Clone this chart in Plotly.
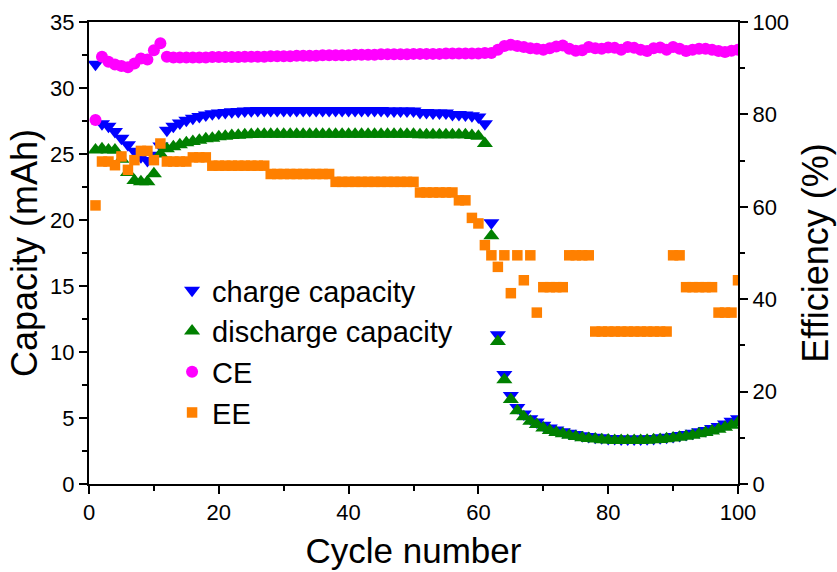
import plotly.graph_objects as go

cycles = list(range(1, 101))

charge_capacity = [
    31.8, 27.3, 27.1, 26.7, 26.2, 25.7, 25.2, 24.8, 24.5, 24.9,
    25.6, 26.8, 27.1, 27.35, 27.55, 27.7, 27.85, 27.95, 28.05, 28.1,
    28.15, 28.2, 28.22, 28.25, 28.27, 28.3, 28.3, 28.3, 28.3, 28.3,
    28.3, 28.3, 28.3, 28.3, 28.3, 28.3, 28.3, 28.3, 28.3, 28.3,
    28.3, 28.3, 28.3, 28.3, 28.3, 28.25, 28.25, 28.25, 28.25, 28.25,
    28.15, 28.15, 28.1, 28.1, 28.1, 28.0, 28.0, 27.95, 27.9, 27.8,
    27.3, 19.8, 11.3, 8.3, 6.7, 5.8, 5.3, 4.95, 4.7, 4.45,
    4.25, 4.1, 3.95, 3.85, 3.75, 3.65, 3.6, 3.55, 3.5, 3.45,
    3.45, 3.4, 3.4, 3.4, 3.4, 3.42, 3.45, 3.5, 3.55, 3.6,
    3.68, 3.75, 3.85, 3.95, 4.05, 4.2, 4.35, 4.55, 4.75, 4.95,
]

discharge_capacity = [
    25.3, 25.4, 25.3, 25.3, 24.6, 23.6, 23.0, 22.9, 22.9, 23.5,
    25.0, 25.4, 25.55, 25.7, 25.85, 25.95, 26.05, 26.15, 26.2, 26.3,
    26.35, 26.4, 26.42, 26.45, 26.48, 26.5, 26.5, 26.5, 26.5, 26.5,
    26.5, 26.5, 26.5, 26.5, 26.5, 26.5, 26.5, 26.5, 26.5, 26.5,
    26.5, 26.5, 26.5, 26.5, 26.5, 26.5, 26.5, 26.5, 26.5, 26.5,
    26.45, 26.45, 26.45, 26.45, 26.45, 26.45, 26.45, 26.45, 26.4, 26.35,
    25.8, 18.8, 10.8, 7.9, 6.4, 5.55, 5.1, 4.75, 4.5, 4.25,
    4.05, 3.9, 3.8, 3.7, 3.6, 3.5, 3.45, 3.4, 3.35, 3.33,
    3.3, 3.3, 3.3, 3.3, 3.3, 3.32, 3.35, 3.38, 3.42, 3.48,
    3.55, 3.62, 3.7, 3.8, 3.9, 4.02, 4.15, 4.3, 4.45, 4.65,
]

ce = [
    78.8, 92.5, 91.4, 90.8, 90.5, 90.2, 91.0, 92.1, 91.9, 93.9,
    95.4, 92.5, 92.3, 92.3, 92.3, 92.3, 92.3, 92.3, 92.4, 92.4,
    92.4, 92.4, 92.4, 92.5, 92.5, 92.5, 92.5, 92.6, 92.6, 92.6,
    92.6, 92.7, 92.7, 92.7, 92.7, 92.8, 92.8, 92.8, 92.8, 92.8,
    92.9, 92.9, 92.9, 92.9, 93.0, 93.0, 93.0, 93.0, 93.0, 93.1,
    93.1, 93.1, 93.1, 93.1, 93.2, 93.2, 93.2, 93.2, 93.2, 93.2,
    93.3, 93.3, 94.0, 94.8, 95.1, 94.8, 94.6, 94.3, 94.2, 94.0,
    94.3, 94.7, 94.9, 94.2, 93.8, 93.9, 94.6, 94.3, 94.2, 94.5,
    94.4, 94.0, 94.6, 94.4, 94.0, 93.7, 94.3, 94.5, 94.0, 94.6,
    94.2, 93.7, 94.0, 94.2, 94.2, 94.0, 93.7, 93.5, 93.8, 94.0,
]

ee = [
    60.3, 69.8, 69.8, 69.0, 70.9, 68.0, 70.1, 72.1, 72.1, 70.1,
    73.7, 69.8, 69.8, 69.8, 69.8, 70.7, 70.7, 70.7, 68.9, 68.9,
    68.9, 68.9, 68.9, 68.9, 68.9, 68.9, 68.9, 67.1, 67.1, 67.1,
    67.1, 67.1, 67.1, 67.1, 67.1, 67.1, 67.1, 65.4, 65.4, 65.4,
    65.4, 65.4, 65.4, 65.4, 65.4, 65.4, 65.4, 65.4, 65.4, 65.4,
    63.1, 63.1, 63.1, 63.1, 63.1, 63.1, 61.4, 61.4, 57.6, 56.4,
    51.7, 49.5, 47.0, 49.5, 41.3, 49.5, 44.1, 49.5, 37.1, 42.6,
    42.6, 42.6, 42.6, 49.5, 49.5, 49.5, 49.5, 33.0, 33.0, 33.0,
    33.0, 33.0, 33.0, 33.0, 33.0, 33.0, 33.0, 33.0, 33.0, 49.5,
    49.5, 42.6, 42.6, 42.6, 42.6, 42.6, 37.1, 37.1, 37.1, 44.1,
]

FONT = "Arial, Liberation Sans, sans-serif"

fig = go.Figure()
fig.add_trace(go.Scatter(x=cycles, y=charge_capacity, mode="markers", name="charge capacity",
                         marker=dict(symbol="triangle-down", size=14, color="#0000FF")))
fig.add_trace(go.Scatter(x=cycles, y=discharge_capacity, mode="markers", name="discharge capacity",
                         marker=dict(symbol="triangle-up", size=14, color="#008000")))
fig.add_trace(go.Scatter(x=cycles, y=ce, mode="markers", name="CE", yaxis="y2",
                         marker=dict(symbol="circle", size=12, color="#FF00FF")))
fig.add_trace(go.Scatter(x=cycles, y=ee, mode="markers", name="EE", yaxis="y2",
                         marker=dict(symbol="square", size=10.5, color="#FF8000")))

axis_common = dict(
    showgrid=False, zeroline=False, showline=True, linecolor="black", linewidth=2,
    ticks="outside", ticklen=8, tickwidth=2, tickcolor="black", automargin=False,
    tickfont=dict(family=FONT, size=22, color="black"),
)

fig.update_layout(
    width=837, height=572,
    margin=dict(l=89, r=99, t=22, b=88, autoexpand=False),
    paper_bgcolor="white", plot_bgcolor="white",
    font=dict(family=FONT, color="black"),
    xaxis=dict(range=[0, 100], dtick=20, mirror=True,
               minor=dict(dtick=10, ticks="outside", ticklen=5, tickwidth=1.5, tickcolor="black"),
               title=dict(text="Cycle number", font=dict(family=FONT, size=35), standoff=14),
               **axis_common),
    yaxis=dict(range=[0, 35], dtick=5,
               minor=dict(dtick=2.5, ticks="outside", ticklen=5, tickwidth=1.5, tickcolor="black"),
               title=dict(text="Capacity (mAh)", font=dict(family=FONT, size=36), standoff=2),
               **axis_common),
    yaxis2=dict(range=[0, 100], dtick=20, overlaying="y", side="right",
                minor=dict(dtick=10, ticks="outside", ticklen=5, tickwidth=1.5, tickcolor="black"),
                title=dict(text="Efficiency (%)", font=dict(family=FONT, size=36), standoff=15),
                **axis_common),
    legend=dict(x=0.128, y=0.474, xanchor="left", yanchor="top",
                bgcolor="rgba(0,0,0,0)", borderwidth=0,
                font=dict(family=FONT, size=29, color="black"),
                tracegroupgap=0),
    showlegend=True,
)

fig.write_html("out.html")
